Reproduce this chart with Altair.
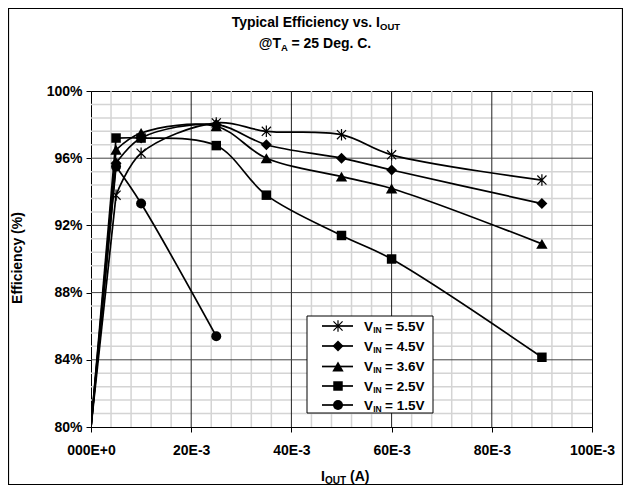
import altair as alt
import pandas as pd

# ---------------- data ----------------
current_a = [0.0, 0.005, 0.010, 0.025, 0.035, 0.050, 0.060, 0.090]
series_labels = ["5.5V", "4.5V", "3.6V", "2.5V", "1.5V"]
eff_5v5 = [80.0, 93.8, 96.3, 98.1, 97.6, 97.4, 96.2, 94.7]
eff_4v5 = [80.0, 95.7, 97.2, 98.0, 96.8, 96.0, 95.3, 93.3]
eff_3v6 = [80.0, 96.5, 97.5, 97.9, 96.0, 94.9, 94.2, 90.9]
eff_2v5 = [80.0, 97.2, 97.2, 96.75, 93.8, 91.4, 90.0, 84.15]
eff_1v5 = [80.0, 95.5, 93.3, 85.4]
efficiencies = [eff_5v5, eff_4v5, eff_3v6, eff_2v5, eff_1v5]

x_tick_values = [0.0, 0.02, 0.04, 0.06, 0.08, 0.10]
y_tick_values = [80, 84, 88, 92, 96, 100]
x_major_grid = [0.02, 0.04, 0.06, 0.08]
y_major_grid = [84, 88, 92, 96]
x_minor_grid = [0.004, 0.008, 0.012, 0.016, 0.024, 0.028, 0.032, 0.036,
                0.044, 0.048, 0.052, 0.056, 0.064, 0.068, 0.072, 0.076,
                0.084, 0.088, 0.092, 0.096]
y_minor_grid = [80.8, 81.6, 82.4, 83.2, 84.8, 85.6, 86.4, 87.2,
                88.8, 89.6, 90.4, 91.2, 92.8, 93.6, 94.4, 95.2,
                96.8, 97.6, 98.4, 99.2]

rows = []
for name, effs in zip(series_labels, efficiencies):
    for i_val, e_val in zip(current_a, effs):
        rows.append({"series": name, "I": i_val, "eff": e_val})
df = pd.DataFrame(rows)
markers_df = df[df["I"] > 0]
start_df = df[df["I"] <= 0.005]

# ---------------- styling ----------------
FONT = "Liberation Sans"
STAR = "M0,-1L0,1M-0.8,-0.8L0.8,0.8M-0.8,0.8L0.8,-0.8"
marker_style = {
    "5.5V": dict(shape=STAR, size=130, filled=False),
    "4.5V": dict(shape="diamond", size=121, filled=True),
    "3.6V": dict(shape="triangle-up", size=130, filled=True),
    "2.5V": dict(shape="square", size=90, filled=True),
    "1.5V": dict(shape="circle", size=100, filled=True),
}

xscale = alt.Scale(domain=[0, 0.1], nice=False, zero=False)
yscale = alt.Scale(domain=[80, 100], nice=False, zero=False)

common_axis = dict(
    title=None, grid=False, tickSize=5, labelFont=FONT, labelFontSize=14,
    labelFontWeight="bold", labelColor="black", domainColor="black",
    tickColor="black", labelFlush=False, labelOverlap=False,
)
xaxis = alt.Axis(
    values=x_tick_values,
    labelExpr="datum.value == 0 ? '000E+0' : format(round(datum.value*1000), 'd') + 'E-3'",
    labelPadding=11, **common_axis)
yaxis = alt.Axis(values=y_tick_values, labelExpr="datum.value + '%'",
                 labelPadding=4, **common_axis)

one = pd.DataFrame({"k": [0]})

layers = []

# grid lines
layers.append(alt.Chart(pd.DataFrame({"I": x_minor_grid})).mark_rule(
    color="#d4d4d4", strokeWidth=1.5).encode(x=alt.X("I:Q", scale=xscale, axis=xaxis)))
layers.append(alt.Chart(pd.DataFrame({"eff": y_minor_grid})).mark_rule(
    color="#d4d4d4", strokeWidth=1.5).encode(y=alt.Y("eff:Q", scale=yscale, axis=yaxis)))
layers.append(alt.Chart(pd.DataFrame({"I": x_major_grid})).mark_rule(
    color="#222222", strokeWidth=1).encode(x=alt.X("I:Q", scale=xscale, axis=xaxis)))
layers.append(alt.Chart(pd.DataFrame({"eff": y_major_grid})).mark_rule(
    color="#444444", strokeWidth=1).encode(y=alt.Y("eff:Q", scale=yscale, axis=yaxis)))

# lines: near-straight rise from the origin, smoothed curve afterwards
layers.append(alt.Chart(start_df).mark_line(
    color="black", strokeWidth=1.7, clip=True).encode(
    x=alt.X("I:Q", scale=xscale, axis=xaxis),
    y=alt.Y("eff:Q", scale=yscale, axis=yaxis),
    detail="series:N"))
layers.append(alt.Chart(markers_df).mark_line(
    interpolate="catmull-rom", color="black", strokeWidth=1.7, clip=True).encode(
    x=alt.X("I:Q", scale=xscale, axis=xaxis),
    y=alt.Y("eff:Q", scale=yscale, axis=yaxis),
    detail="series:N"))

# markers
for name in series_labels:
    st = marker_style[name]
    sub = markers_df[markers_df["series"] == name]
    if st["filled"]:
        mk = alt.Chart(sub).mark_point(shape=st["shape"], size=st["size"], filled=True,
                                       color="black", opacity=1)
    else:
        mk = alt.Chart(sub).mark_point(shape=st["shape"], size=st["size"], filled=False,
                                       color="black", strokeWidth=1.2, opacity=1)
    layers.append(mk.encode(x=alt.X("I:Q", scale=xscale, axis=xaxis),
                            y=alt.Y("eff:Q", scale=yscale, axis=yaxis)))


def txt(s, x, y, size=14, align="left", baseline="alphabetic", angle=0):
    return alt.Chart(one).mark_text(
        text=s, font=FONT, fontSize=size, fontWeight="bold", color="black",
        align=align, baseline=baseline, angle=angle).encode(
        x=alt.value(x), y=alt.value(y))


# legend box
layers.append(alt.Chart(one).mark_rect(fill="white", stroke="black", strokeWidth=1).encode(
    x=alt.value(216), x2=alt.value(342), y=alt.value(225), y2=alt.value(322)))
legend_row_y = [235, 255, 275.5, 295, 314]
for name, ry in zip(series_labels, legend_row_y):
    st = marker_style[name]
    layers.append(alt.Chart(one).mark_rule(color="black", strokeWidth=1.7).encode(
        x=alt.value(231), x2=alt.value(262), y=alt.value(ry)))
    if st["filled"]:
        mk = alt.Chart(one).mark_point(shape=st["shape"], size=st["size"], filled=True,
                                       color="black", opacity=1)
    else:
        mk = alt.Chart(one).mark_point(shape=st["shape"], size=st["size"], filled=False,
                                       color="black", strokeWidth=1.2, opacity=1)
    layers.append(mk.encode(x=alt.value(247), y=alt.value(ry)))
    layers.append(txt("V", 273, ry + 4.8, size=13.5))
    layers.append(txt("IN", 282.2, ry + 6.7, size=8.5))
    layers.append(txt("= " + name, 294, ry + 4.8, size=13.5))

# titles
layers.append(txt("Typical Efficiency vs. I", 289, -64, align="right"))
layers.append(txt("OUT", 289, -61, size=9.5))
layers.append(txt("@T", 190, -43, align="right"))
layers.append(txt("A", 190, -40, size=9.5))
layers.append(txt("= 25 Deg. C.", 200.5, -43))

# axis titles
layers.append(txt("Efficiency (%)", -73, 167, align="center", baseline="middle", angle=270))
layers.append(txt("I", 230, 390))
layers.append(txt("OUT", 234, 393, size=10))
layers.append(txt("(A)", 259, 390))

# outer chart border
layers.append(alt.Chart(one).mark_rect(fillOpacity=0, stroke="black", strokeWidth=1.2).encode(
    x=alt.value(-82.5), x2=alt.value(531.5), y=alt.value(-82.5), y2=alt.value(393.5)))

chart = alt.layer(*layers).properties(
    width=501, height=336,
    padding={"left": 83, "top": 83, "right": 31, "bottom": 58},
    autosize=alt.AutoSizeParams(type="none"),
    background="white",
).configure_view(stroke="black", strokeWidth=1)

chart.save("out.html", embed_options={"renderer": "svg", "actions": False})
